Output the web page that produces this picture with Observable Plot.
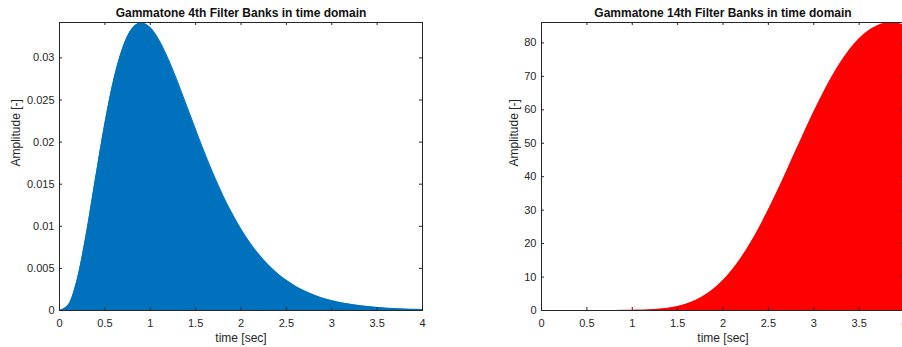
<!DOCTYPE html>
<html>
<head>
<meta charset="utf-8">
<script src="https://cdn.jsdelivr.net/npm/d3@7"></script>
<script src="https://cdn.jsdelivr.net/npm/@observablehq/plot@0.6"></script>
<style>
  html, body { margin: 0; padding: 0; background: #fff; }
  #wrap { position: relative; width: 902px; height: 347px; overflow: hidden; background: #fff; }
  #left, #right { position: absolute; top: 0; }
  #left { left: 0; width: 450px; }
  #right { left: 450px; width: 482px; }
  #wrap svg { max-width: none !important; display: block; }
</style>
</head>
<body>
<div id="wrap"><div id="left"></div><div id="right"></div></div>
<script>
// Time samples (sec)
const time = [0,0.1,0.2,0.3,0.4,0.5,0.6,0.7,0.8,0.9,1.0,1.1,1.2,1.3,1.4,1.5,1.6,1.7,1.8,1.9,2.0,
              2.1,2.2,2.3,2.4,2.5,2.6,2.7,2.8,2.9,3.0,3.1,3.2,3.3,3.4,3.5,3.6,3.7,3.8,3.9,4.0];
// 4th order gammatone envelope
const amp4 = [0,0.00067,0.00385,0.00932,0.01583,0.02216,0.02745,0.03124,0.03344,0.03413,0.03355,
              0.03201,0.02979,0.02715,0.02430,0.02143,0.01864,0.01602,0.01363,0.01150,0.00961,
              0.00797,0.00657,0.00538,0.00438,0.00355,0.00286,0.00230,0.00184,0.00146,0.00116,
              0.00092,0.00073,0.00057,0.00045,0.00035,0.00027,0.00021,0.00016,0.00013,0.00010];
// 14th order gammatone envelope
const amp14 = [0,0,0,0,0,0.00002,0.00016,0.00085,0.0034,0.0113,0.032,
               0.078,0.173,0.350,0.654,1.145,1.891,2.966,4.448,6.409,8.909,
               11.98,15.65,19.90,24.69,29.95,35.58,41.44,47.44,53.40,59.20,
               64.67,69.73,74.21,78.04,81.17,83.50,85.04,85.84,85.87,85.12];
const xTicks = [0,0.5,1,1.5,2,2.5,3,3.5,4];
const yTicks4 = [0,0.005,0.01,0.015,0.02,0.025,0.03];
const yTicks14 = [0,10,20,30,40,50,60,70,80];
const titles = ["Gammatone 4th Filter Banks in time domain", "Gammatone 14th Filter Banks in time domain"];
const xLabel = "time [sec]";
const yLabel = "Amplitude [-]";

const data4 = time.map((t, i) => ({t, v: amp4[i]}));
const data14 = time.map((t, i) => ({t, v: amp14[i]}));

const INK = "#262626";
const H = 347, MT = 22, MB = 37, FW = 363;
const FH = H - MT - MB;

function panel({data, yDomain, yTicks, color, title, marginLeft, ylabDx}) {
  return Plot.plot({
    width: marginLeft + FW + 28,
    height: H,
    marginTop: MT, marginBottom: MB, marginLeft, marginRight: 28,
    style: {fontFamily: "'Liberation Sans', Arial, sans-serif", fontSize: "11px", color: INK, background: "white", maxWidth: "none"},
    x: {domain: [0, 4]},
    y: {domain: yDomain},
    marks: [
      Plot.areaY(data, {x: "t", y: "v", fill: color, curve: "monotone-x"}),
      Plot.lineY(data, {x: "t", y: "v", stroke: color, strokeWidth: 1.2, curve: "monotone-x"}),
      Plot.frame({stroke: INK, strokeWidth: 1}),
      // inward ticks on all four sides
      Plot.tickX(xTicks, {x: d => d, stroke: INK, insetTop: FH - 3}),
      Plot.tickX(xTicks, {x: d => d, stroke: INK, insetBottom: FH - 3}),
      Plot.tickY(yTicks, {y: d => d, stroke: INK, insetRight: FW - 3}),
      Plot.tickY(yTicks, {y: d => d, stroke: INK, insetLeft: FW - 3}),
      Plot.axisX({ticks: xTicks, tickSize: 0, tickPadding: 9, fontSize: 11, tickFormat: d => String(d), label: null}),
      Plot.axisY({ticks: yTicks, tickSize: 0, tickPadding: 5, fontSize: 11, tickFormat: d => String(d), label: null}),
      Plot.text([title], {frameAnchor: "top", dy: -9, text: d => d, fontWeight: "bold", fontSize: 12, fill: "#111", lineAnchor: "middle"}),
      Plot.text([xLabel], {frameAnchor: "bottom", dy: 28, text: d => d, fontSize: 12, fill: INK, lineAnchor: "middle"}),
      Plot.text([yLabel], {frameAnchor: "left", dx: ylabDx, rotate: -90, text: d => d, fontSize: 12, fill: INK, lineAnchor: "middle"})
    ]
  });
}

document.getElementById("left").appendChild(panel({
  data: data4, yDomain: [0, 0.0342], yTicks: yTicks4, color: "#0072BD",
  title: titles[0], marginLeft: 59, ylabDx: -43
}));
document.getElementById("right").appendChild(panel({
  data: data14, yDomain: [0, 86.1], yTicks: yTicks14, color: "#FF0000",
  title: titles[1], marginLeft: 91, ylabDx: -27
}));
</script>
</body>
</html>
